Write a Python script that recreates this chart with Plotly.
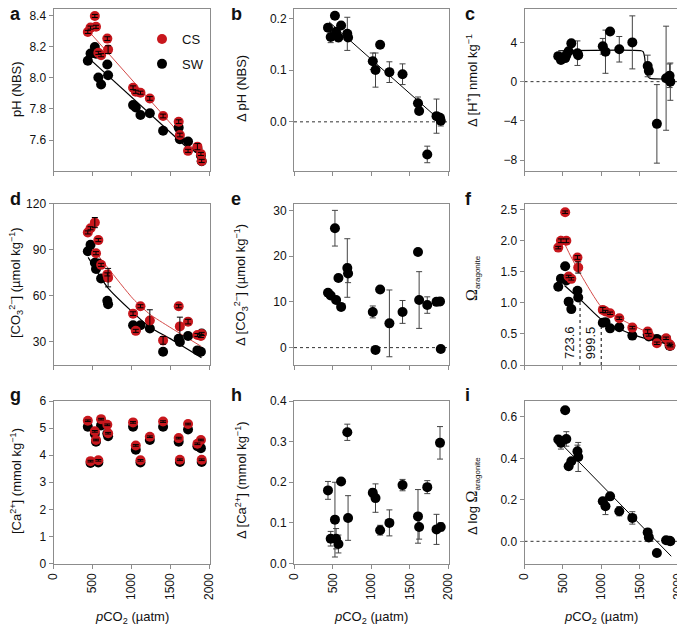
import plotly.graph_objects as go
from plotly.subplots import make_subplots

# treatment pCO2 (µatm), one per CS/SW pair
pco2 = [440, 475, 530, 545, 575, 610, 690, 700, 1020, 1055, 1115, 1235, 1405, 1605, 1620, 1725, 1845, 1890, 1900]

# a: pH (NBS)
ph_cs = [8.297, 8.325, 8.400, 8.330, 8.162, 8.147, 8.254, 8.183, 7.937, 7.911, 7.905, 7.868, 7.755, 7.718, 7.632, 7.530, 7.557, 7.510, 7.465]
ph_cs_err = [0.01, 0.01, 0.01, 0.01, 0.01, 0.01, 0.012, 0.025, 0.012, 0.01, 0.01, 0.012, 0.012, 0.012, 0.012, 0.01, 0.02, 0.01, 0.01]
ph_sw = [8.111, 8.158, 8.200, 8.156, 8.003, 7.958, 8.087, 8.018, 7.825, 7.810, 7.761, 7.772, 7.660, 7.680, 7.605, 7.590, 7.546, 7.500, 7.463]
fit_a_cs_x = [449, 1885]
fit_a_cs_y = [8.303, 7.49]
fit_a_sw_x = [490, 1725]
fit_a_sw_y = [8.11, 7.545]

# b: delta pH
dph = [0.182, 0.164, 0.205, 0.174, 0.163, 0.186, 0.170, 0.163, 0.117, 0.100, 0.149, 0.096, 0.092, 0.036, 0.021, -0.063, 0.011, 0.008, 0.002]
dph_err = [0.005, 0.011, 0.004, 0.006, 0.008, 0.005, 0.032, 0.006, 0.016, 0.033, 0.004, 0.02, 0.02, 0.012, 0.005, 0.016, 0.033, 0.005, 0.01]
fit_b_x = [455, 1935]
fit_b_y = [0.193, -0.003]

# c: delta [H+]
dh = [2.6, 2.2, 2.4, 2.7, 3.1, 3.9, 2.9, 2.7, 3.6, 3.05, 5.1, 3.3, 4.0, 1.6, 1.1, -4.3, 0.35, 0.6, 0.0]
dh_err = [0.3, 0.3, 0.3, 0.3, 0.3, 0.3, 1.25, 0.3, 0.8, 2.2, 0.2, 1.3, 2.7, 1.1, 0.3, 4.0, 5.3, 1.2, 1.9]
fit_c_x = [440, 1520, 1545, 1565, 1578, 1595, 1630, 1700, 1850]
fit_c_y = [3.15, 3.15, 3.05, 2.5, 1.5, 0.7, 0.35, 0.28, 0.27]

# d: [CO3 2-]
co3_cs = [101.2, 103.9, 107.6, 87.7, 96.2, 80.1, 73.9, 71.8, 48.4, 37.2, 53.2, 43.9, 31.0, 53.2, 40.1, 43.2, 34.5, 33.9, 35.2]
co3_cs_err = [1.0, 1.0, 3.3, 1.0, 1.0, 1.0, 1.0, 6.0, 1.2, 1.0, 1.0, 7.0, 2.5, 1.0, 6.0, 1.5, 1.0, 1.0, 1.0]
co3_sw = [89.0, 93.1, 81.5, 77.4, 81.0, 71.2, 56.7, 54.5, 40.8, 38.0, 40.8, 38.7, 23.6, 32.0, 30.0, 33.9, 24.5, 23.6, 35.5]
fit_d_cs_x = [457, 700, 1021, 1235, 1491, 1897]
fit_d_cs_y = [93.7, 78, 58, 48, 39.6, 27]
fit_d_sw_x = [444, 700, 1000, 1235, 1491, 1662, 1897]
fit_d_sw_y = [85, 65, 50, 39.6, 32.3, 27, 19.8]

# e: delta [CO3 2-]
dco3 = [12.0, 11.4, 26.1, 10.4, 15.2, 8.9, 17.4, 16.2, 7.8, -0.5, 12.7, 5.3, 7.8, 20.9, 10.4, 9.3, 10.0, 10.1, -0.3]
dco3_err = [0.6, 0.6, 3.9, 0.7, 0.6, 0.5, 6.4, 2.0, 1.3, 0.4, 0.4, 7.3, 2.5, 0.5, 6.2, 1.8, 0.8, 0.8, 0.4]

# f: omega aragonite
om_cs = [1.89, 2.00, 2.46, 2.00, 1.425, 1.387, 1.731, 1.570, 0.887, 0.86, 0.833, 0.753, 0.602, 0.538, 0.484, 0.35, 0.43, 0.333, 0.312]
om_cs_err = [0.02, 0.03, 0.02, 0.03, 0.02, 0.02, 0.03, 0.09, 0.04, 0.02, 0.02, 0.02, 0.02, 0.03, 0.02, 0.02, 0.02, 0.02, 0.02]
om_sw = [1.26, 1.39, 1.59, 1.36, 1.02, 0.90, 1.194, 1.086, 0.68, 0.69, 0.59, 0.608, 0.473, 0.49, 0.46, 0.42, 0.42, 0.31, 0.31]
fit_f_cs_x = [474, 594, 736, 1004, 1235, 1491, 1747, 1897]
fit_f_cs_y = [2.08, 1.77, 1.45, 0.93, 0.75, 0.59, 0.456, 0.35]
fit_f_sw_x = [521, 756, 1004, 1235, 1491, 1747, 1897]
fit_f_sw_y = [1.28, 1.02, 0.73, 0.58, 0.456, 0.376, 0.32]
thresh_x = [723.6, 999.5]
thresh_y = [1.03, 0.72]

# g: [Ca2+]
ca_cs = [5.27, 3.78, 4.88, 4.56, 3.81, 5.33, 5.12, 4.81, 5.21, 4.36, 3.81, 4.68, 5.24, 4.63, 3.83, 5.15, 4.42, 4.56, 3.83]
ca_cs_err = [0.03] * 19
ca_sw = [5.05, 3.71, 4.78, 4.50, 3.73, 5.10, 4.80, 4.70, 5.05, 4.20, 3.73, 4.56, 5.05, 4.50, 3.75, 4.95, 4.33, 4.26, 3.75]

# h: delta [Ca2+]
dca = [0.180, 0.061, 0.108, 0.061, 0.048, 0.202, 0.323, 0.112, 0.174, 0.161, 0.082, 0.100, 0.193, 0.116, 0.090, 0.188, 0.084, 0.297, 0.090]
dca_err = [0.022, 0.018, 0.092, 0.025, 0.022, 0.006, 0.02, 0.055, 0.01, 0.035, 0.012, 0.032, 0.014, 0.066, 0.03, 0.016, 0.037, 0.04, 0.01]

# i: delta log omega
dlog = [0.491, 0.475, 0.632, 0.494, 0.362, 0.386, 0.434, 0.407, 0.193, 0.169, 0.217, 0.145, 0.113, 0.043, 0.019, -0.056, 0.005, 0.003, 0.0]
dlog_err = [0.02, 0.03, 0.01, 0.035, 0.01, 0.01, 0.03, 0.07, 0.015, 0.04, 0.01, 0.022, 0.03, 0.01, 0.01, 0.01, 0.01, 0.01, 0.01]
fit_i_x = [466, 1912]
fit_i_y = [0.475, -0.072]

# the html body keeps its default 8px margin, so the figure is drawn 8px in
OFF = 8
W, H = 685 - OFF, 630 - OFF
RED = "#c8171d"
RED_LINE = "#d44a48"
FRAME = "#8c8c8c"
ERR = "#444444"
FONT = "Liberation Sans, Arial, sans-serif"
MS = 10


def pxx(p):
    return max(p - OFF, 0) / W


def pxy(p):
    return 1 - max(p - OFF, 0) / H


fig = make_subplots(rows=3, cols=3)


def add_pair(r, c, cs, cs_err, sw, legend=False):
    fig.add_trace(go.Scatter(x=pco2, y=sw, mode="markers", name="SW", legendgroup="sw", legendrank=2,
                             showlegend=legend, marker=dict(color="black", size=MS)), row=r, col=c)
    fig.add_trace(go.Scatter(x=pco2, y=cs, mode="markers", name="CS", legendgroup="cs", legendrank=1,
                             showlegend=legend, marker=dict(color=RED, size=MS)), row=r, col=c)
    # error bars drawn on top of the red dots
    fig.add_trace(go.Scatter(x=pco2, y=cs, mode="markers", showlegend=False, hoverinfo="skip",
                             marker=dict(color="rgba(0,0,0,0)", size=MS),
                             error_y=dict(type="data", array=cs_err, color="black", thickness=1, width=3)),
                  row=r, col=c)


def add_delta(r, c, y, err):
    fig.add_trace(go.Scatter(x=pco2, y=y, mode="markers", showlegend=False,
                             marker=dict(color="black", size=MS),
                             error_y=dict(type="data", array=err, color=ERR, thickness=1, width=3)),
                  row=r, col=c)


def add_line(r, c, x, y, color="black", width=1.2):
    fig.add_trace(go.Scatter(x=x, y=y, mode="lines", showlegend=False, hoverinfo="skip",
                             line=dict(color=color, width=width, shape="spline", smoothing=0.6)),
                  row=r, col=c)


# a
add_line(1, 1, fit_a_cs_x, fit_a_cs_y, RED_LINE, 1)
add_line(1, 1, fit_a_sw_x, fit_a_sw_y)
add_pair(1, 1, ph_cs, ph_cs_err, ph_sw, legend=True)
# b
add_line(1, 2, fit_b_x, fit_b_y, width=1)
add_delta(1, 2, dph, dph_err)
# c
add_line(1, 3, fit_c_x, fit_c_y, width=1.2)
add_delta(1, 3, dh, dh_err)
# d
add_line(2, 1, fit_d_cs_x, fit_d_cs_y, RED_LINE, 1)
add_line(2, 1, fit_d_sw_x, fit_d_sw_y)
add_pair(2, 1, co3_cs, co3_cs_err, co3_sw)
# e
add_delta(2, 2, dco3, dco3_err)
# f
for tx, ty in zip(thresh_x, thresh_y):
    fig.add_trace(go.Scatter(x=[tx, tx], y=[0, ty], mode="lines", showlegend=False, hoverinfo="skip",
                             line=dict(color="black", width=1, dash="dot")), row=2, col=3)
    fig.add_annotation(x=tx, y=0, xref="x6", yref="y6", text=f"{tx:.1f}", textangle=-90,
                       xanchor="right", yanchor="bottom", yshift=4, xshift=-1, showarrow=False,
                       font=dict(family=FONT, size=13, color="#111"))
add_line(2, 3, fit_f_cs_x, fit_f_cs_y, RED_LINE, 1)
add_line(2, 3, fit_f_sw_x, fit_f_sw_y)
add_pair(2, 3, om_cs, om_cs_err, om_sw)
# g
add_pair(3, 1, ca_cs, ca_cs_err, ca_sw)
# h
add_delta(3, 2, dca, dca_err)
# i
add_line(3, 3, fit_i_x, fit_i_y, width=1)
add_delta(3, 3, dlog, dlog_err)

# dotted zero lines
for r, c in [(1, 2), (1, 3), (2, 2), (3, 3)]:
    fig.add_hline(y=0, row=r, col=c, line=dict(color="#333", width=1, dash="dot"), layer="below")

cols = [(53.5, 209.5), (294, 448.5), (524.5, 678)]
rows = [(9, 171), (203.5, 365), (401, 563.5)]

OMEGA = "<span style='font-family:Liberation Serif;font-size:16px'>Ω</span>"
ARAG = "<sub><span style='font-size:8px'>aragonite</span></sub>"
panels = [
    ("a", "pH (NBS)", [7.4, 8.445], [7.6, 7.8, 8.0, 8.2, 8.4], ".1f", 89),
    ("b", "Δ pH (NBS)", [-0.095, 0.218], [0.0, 0.1, 0.2], ".1f", 89),
    ("c", "Δ [H<sup>+</sup>] nmol kg<sup>−1</sup>", [-9.1, 7.4], [-8, -4, 0, 4], "d", 81),
    ("d", "[CO<sub>3</sub><sup>2−</sup>] (µmol kg<sup>−1</sup>)", [15, 120], [30, 60, 90, 120], "d", 283),
    ("e", "Δ [CO<sub>3</sub><sup>2−</sup>] (µmol kg<sup>−1</sup>)", [-3.8, 31.5], [0, 10, 20, 30], "d", 285),
    ("f", OMEGA + ARAG, [0, 2.6], [0, 0.5, 1.0, 1.5, 2.0, 2.5], ".1f", 278),
    ("g", "[Ca<sup>2+</sup>] (mmol kg<sup>−1</sup>)", [0, 6], [0, 1, 2, 3, 4, 5, 6], "d", 481),
    ("h", "Δ [Ca<sup>2+</sup>] (mmol kg<sup>−1</sup>)", [0, 0.4], [0.0, 0.1, 0.2, 0.3, 0.4], ".1f", 480),
    ("i", "Δ log " + OMEGA + ARAG, [-0.107, 0.677], [0.0, 0.2, 0.4, 0.6], ".1f", 496),
]
title_x = [16, 241, 472]
letter_x = [2, 229, 463]
letter_y = [14, 199, 395]

axis_style = dict(showline=True, linecolor=FRAME, linewidth=1, mirror=True, ticks="outside",
                  ticklen=4, tickcolor=FRAME, showgrid=False, zeroline=False,
                  ticklabeloverflow="allow",
                  tickfont=dict(family=FONT, size=12, color="#111"))

for k, (letter, ytitle, yr, yticks, yfmt, ty) in enumerate(panels):
    r, c = divmod(k, 3)
    n = "" if k == 0 else str(k + 1)
    x0, x1 = cols[c]
    y0, y1 = rows[r]
    fig.layout["xaxis" + n].update(domain=[pxx(x0), pxx(x1)], range=[0, 2000],
                                   tickvals=[0, 500, 1000, 1500, 2000],
                                   showticklabels=(r == 2), tickangle=-90, **axis_style)
    fig.layout["yaxis" + n].update(domain=[pxy(y1), pxy(y0)], range=yr, tickvals=yticks,
                                   tickformat=yfmt, **axis_style)
    fig.add_annotation(x=pxx(title_x[c]), y=pxy(ty), xref="paper", yref="paper", text=ytitle,
                       textangle=-90, showarrow=False, xanchor="center", yanchor="middle",
                       font=dict(family=FONT, size=13, color="#111"))
    fig.add_annotation(x=pxx(letter_x[c]), y=pxy(letter_y[r]), xref="paper", yref="paper",
                       text=f"<b>{letter}</b>", showarrow=False, xanchor="left", yanchor="middle",
                       font=dict(family=FONT, size=18, color="#111"))
    if r == 2:
        fig.add_annotation(x=pxx((x0 + x1) / 2), y=pxy(617), xref="paper", yref="paper",
                           text="<i>p</i>CO<sub>2</sub> (µatm)", showarrow=False,
                           xanchor="center", yanchor="middle",
                           font=dict(family=FONT, size=13, color="#111"))

fig.update_layout(
    width=W, height=H, template="none",
    margin=dict(l=0, r=0, t=0, b=0),
    paper_bgcolor="white", plot_bgcolor="white",
    font=dict(family=FONT, size=12, color="#111"),
    showlegend=True,
    legend=dict(x=pxx(142), y=pxy(24), xanchor="left", yanchor="top", bgcolor="rgba(0,0,0,0)",
                font=dict(family=FONT, size=13, color="#111"), tracegroupgap=5,
                traceorder="grouped"),
)

fig.write_html("out.html")
